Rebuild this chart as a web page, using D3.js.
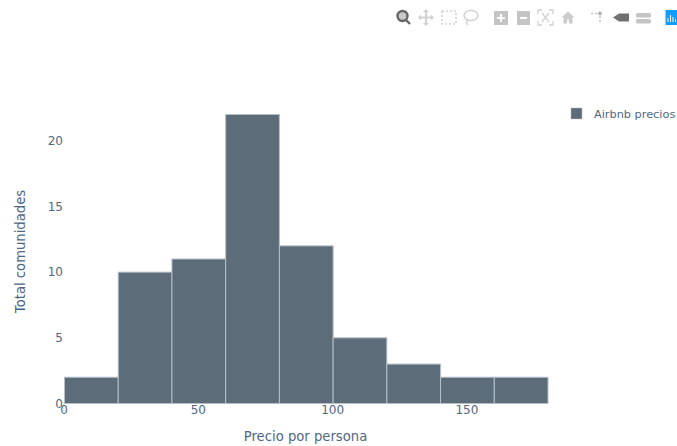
<!DOCTYPE html>
<html>
<head>
<meta charset="utf-8">
<title>Airbnb precios</title>
<script src="https://d3js.org/d3.v7.min.js"></script>
<style>
html, body { margin: 0; padding: 0; background: #fff; overflow: hidden; }
svg { display: block; }
text { font-family: "DejaVu Sans", sans-serif; fill: #506784; }
</style>
</head>
<body>
<svg id="chart" width="677" height="446"></svg>
<script>
var binEdges = [0, 20, 40, 60, 80, 100, 120, 140, 160, 180];
var counts = [2, 10, 11, 22, 12, 5, 3, 2, 2];
var xTicks = [0, 50, 100, 150];
var yTicks = [0, 5, 10, 15, 20];
var seriesName = "Airbnb precios";
var xTitle = "Precio por persona";
var yTitle = "Total comunidades";

var svg = d3.select("#chart");

// Scales
var xScale = d3.scaleLinear().domain([0, 180]).range([64.5, 548]);
var yScale = d3.scaleLinear().domain([0, 22]).range([403.5, 114.5]);

// Bars
svg.append("g").selectAll("rect")
    .data(counts)
    .enter()
    .append("rect")
    .attr("x", function (d, i) { return xScale(binEdges[i]); })
    .attr("y", function (d) { return yScale(d); })
    .attr("width", function (d, i) { return xScale(binEdges[i + 1]) - xScale(binEdges[i]); })
    .attr("height", function (d) { return yScale(0) - yScale(d); })
    .attr("fill", "#5c6d79")
    .attr("stroke", "#b4bfca")
    .attr("stroke-width", 1);

// Axes
var xAxis = d3.axisBottom(xScale).tickValues(xTicks).tickSize(0).tickPadding(0);
var yAxis = d3.axisLeft(yScale).tickValues(yTicks).tickSize(0).tickPadding(0);

var gx = svg.append("g").attr("transform", "translate(-1,405)").call(xAxis);
gx.select(".domain").remove();
gx.selectAll("text").attr("font-size", 12).attr("fill", "#506784")
    .style("font-family", '"DejaVu Sans", sans-serif');

var gy = svg.append("g").attr("transform", "translate(63,0)").call(yAxis);
gy.select(".domain").remove();
gy.selectAll("text").attr("font-size", 12).attr("fill", "#506784")
    .style("font-family", '"DejaVu Sans", sans-serif');

// Axis titles
svg.append("text").attr("x", 305.5).attr("y", 441)
    .attr("text-anchor", "middle").attr("font-size", 13.2).text(xTitle);
svg.append("text")
    .attr("transform", "translate(25,251.5) rotate(-90)")
    .attr("text-anchor", "middle").attr("font-size", 13.2).text(yTitle);

// Legend
svg.append("rect").attr("x", 571).attr("y", 108).attr("width", 11).attr("height", 11)
    .attr("fill", "#5c6d79").attr("stroke", "#b4bfca").attr("stroke-width", 0.5);
svg.append("text").attr("x", 594).attr("y", 118).attr("font-size", 11.3).text(seriesName);

// Modebar
var bar = svg.append("g");
var grey = "#d2d2d2";

// zoom (active)
bar.append("circle").attr("cx", 402.5).attr("cy", 16).attr("r", 5)
    .attr("fill", "#c8c8c8").attr("stroke", "#666").attr("stroke-width", 2.4);
bar.append("line").attr("x1", 406).attr("y1", 20).attr("x2", 410).attr("y2", 24)
    .attr("stroke", "#666").attr("stroke-width", 2.4);

// pan
bar.append("path").attr("d", "M426 10V25M419 17.5H433").attr("stroke", grey).attr("stroke-width", 2.2).attr("fill", "none");
bar.append("path").attr("d", "M426 9l-3 3h6zM426 26l-3-3h6zM418 17.5l3-3v6zM434 17.5l-3-3v6z").attr("fill", grey);

// box select
bar.append("rect").attr("x", 442).attr("y", 11).attr("width", 14).attr("height", 13)
    .attr("fill", "none").attr("stroke", grey).attr("stroke-width", 1.6).attr("stroke-dasharray", "2 2");

// lasso
bar.append("ellipse").attr("cx", 471).attr("cy", 15.5).attr("rx", 7).attr("ry", 5)
    .attr("fill", "none").attr("stroke", grey).attr("stroke-width", 1.5);
bar.append("path").attr("d", "M467 20q-1 3 1 5").attr("fill", "none").attr("stroke", grey).attr("stroke-width", 1.5);

// zoom in / out
bar.append("rect").attr("x", 494).attr("y", 11).attr("width", 14).attr("height", 14).attr("fill", "#c4c4c4");
bar.append("path").attr("d", "M497 18H505M501 14V22").attr("stroke", "#fff").attr("stroke-width", 2);
bar.append("rect").attr("x", 517).attr("y", 11).attr("width", 13).attr("height", 14).attr("fill", "#c4c4c4");
bar.append("path").attr("d", "M520 18H527").attr("stroke", "#fff").attr("stroke-width", 2);

// autoscale
bar.append("path").attr("d", "M538 14v-4h4M549 10h4v4M553 21v4h-4M542 25h-4v-4M542 13l7 9M549 13l-7 9")
    .attr("fill", "none").attr("stroke", grey).attr("stroke-width", 1.3);

// home
bar.append("path").attr("d", "M568 11.5l-6.5 6h2v6h3.5v-4h2v4h3.5v-6h2z").attr("fill", "#cccccc");

// spikelines
bar.append("circle").attr("cx", 600).attr("cy", 13.5).attr("r", 2).attr("fill", "#b4b4b4");
bar.append("path").attr("d", "M591 13.5H598M600 16V24").attr("stroke", "#c4c4c4").attr("stroke-width", 1.5).attr("stroke-dasharray", "2 2");

// closest data
bar.append("path").attr("d", "M613 17.5l6-4h10v8h-10z").attr("fill", "#707070");

// compare data
bar.append("rect").attr("x", 636).attr("y", 13).attr("width", 15).attr("height", 4.5).attr("rx", 1.5).attr("fill", "#c4c4c4");
bar.append("rect").attr("x", 636).attr("y", 19).attr("width", 15).attr("height", 4.5).attr("rx", 1.5).attr("fill", "#c4c4c4");

// logo
bar.append("rect").attr("x", 665.5).attr("y", 10).attr("width", 12).attr("height", 15).attr("fill", "#119dff");
bar.append("path").attr("d", "M668 22V18M670.5 22V15M673 22V17M675.5 22V19").attr("stroke", "#fff").attr("stroke-width", 1);
</script>
</body>
</html>
